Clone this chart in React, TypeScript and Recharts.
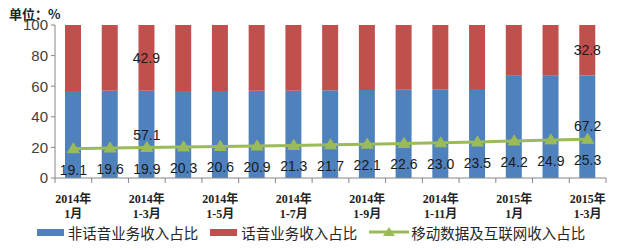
import React from "react";
import {
  ComposedChart,
  Bar,
  Line,
  XAxis,
  YAxis,
  Legend,
  LabelList,
} from "recharts";

const categories = [
  "2014年1月",
  "2014年1-2月",
  "2014年1-3月",
  "2014年1-4月",
  "2014年1-5月",
  "2014年1-6月",
  "2014年1-7月",
  "2014年1-8月",
  "2014年1-9月",
  "2014年1-10月",
  "2014年1-11月",
  "2014年1-12月",
  "2015年1月",
  "2015年1-2月",
  "2015年1-3月",
];

const nonVoiceShare = [56.9, 57.0, 57.1, 56.8, 56.9, 57.0, 57.1, 57.3, 57.5, 57.7, 58.0, 58.1, 66.8, 67.1, 67.2];
const voiceShare = [43.1, 43.0, 42.9, 43.2, 43.1, 43.0, 42.9, 42.7, 42.5, 42.3, 42.0, 41.9, 33.2, 32.9, 32.8];
const mobileDataShare = [19.1, 19.6, 19.9, 20.3, 20.6, 20.9, 21.3, 21.7, 22.1, 22.6, 23.0, 23.5, 24.2, 24.9, 25.3];

const labeledBars = [2, 14];
const yTicks = [0, 20, 40, 60, 80, 100];

const seriesOrder = ["nonVoice", "voice", "data"];
const seriesNames = {
  nonVoice: "非话音业务收入占比",
  voice: "话音业务收入占比",
  data: "移动数据及互联网收入占比",
};

const colors = {
  nonVoice: "#4F81BD",
  voice: "#C0504D",
  data: "#9BBB59",
};

const AXIS_COLOR = "#868686";

const data = categories.map((c, i) => ({
  name: c,
  nonVoice: nonVoiceShare[i],
  voice: voiceShare[i],
  data: mobileDataShare[i],
}));

const NUM_FONT = "'Liberation Sans', Arial, sans-serif";
const CJK_FONT = "'Noto Sans CJK SC', 'Noto Sans', sans-serif";

const getXY = (props: any) => {
  const vb = props.viewBox || {};
  const x = vb.x ?? props.x;
  const y = vb.y ?? props.y;
  const w = vb.width ?? props.width ?? 0;
  const h = vb.height ?? props.height ?? 0;
  return { x, y, w, h };
};

const LineValueLabel = (props: any) => {
  const { x, y } = getXY(props);
  if (x == null || y == null) return null;
  return (
    <text x={x} y={y + 26} textAnchor="middle" fontSize={14} fontFamily={NUM_FONT} fill="#1a1a1a">
      {Number(props.value).toFixed(1)}
    </text>
  );
};

const NonVoiceLabel = (props: any) => {
  if (!labeledBars.includes(props.index)) return null;
  const { x, y } = getXY(props);
  if (x == null || y == null) return null;
  return (
    <text x={x} y={y - 8} textAnchor="middle" fontSize={14} fontFamily={NUM_FONT} fill="#1a1a1a">
      {Number(props.value).toFixed(1)}
    </text>
  );
};

const VoiceLabel = (props: any) => {
  if (!labeledBars.includes(props.index)) return null;
  const { x, y, w, h } = getXY(props);
  if (x == null || y == null) return null;
  return (
    <text x={x + w / 2} y={y + h / 2 + 5} textAnchor="middle" fontSize={14} fontFamily={NUM_FONT} fill="#1a1a1a">
      {Number(props.value).toFixed(1)}
    </text>
  );
};

const TriangleDot = (props: any) => {
  const { cx, cy } = props;
  if (cx == null || cy == null) return null;
  return (
    <polygon
      points={`${cx},${cy - 6} ${cx - 6},${cy + 4} ${cx + 6},${cy + 4}`}
      fill={colors.data}
      stroke={colors.data}
    />
  );
};

const CategoryTick = (props: any) => {
  const { x, y, payload, index, visibleTicksCount } = props;
  const idx = payload.index ?? index;
  const half = payload.offset ?? 18.37;
  const count = visibleTicksCount ?? categories.length;
  const v: string = payload.value;
  const k = v.indexOf("年");
  const year = v.slice(0, k + 1);
  const period = v.slice(k + 1);
  const showLabel = idx % 2 === 0;
  const font = "'Liberation Serif', 'Noto Sans CJK SC', serif";
  return (
    <g>
      <line x1={x - half} y1={y} x2={x - half} y2={y + 5} stroke={AXIS_COLOR} />
      {idx === count - 1 && (
        <line x1={x + half} y1={y} x2={x + half} y2={y + 5} stroke={AXIS_COLOR} />
      )}
      {showLabel && (
        <text x={x} y={y + 25} textAnchor="middle" fontSize={12} fontWeight="bold" fontFamily={font} fill="#222">
          {year}
        </text>
      )}
      {showLabel && (
        <text x={x} y={y + 40} textAnchor="middle" fontSize={12} fontWeight="bold" fontFamily={font} fill="#222">
          {period}
        </text>
      )}
    </g>
  );
};

const LegendContent = (props: any) => {
  const payload = [...(props.payload || [])].sort(
    (a: any, b: any) => seriesOrder.indexOf(a.dataKey) - seriesOrder.indexOf(b.dataKey)
  );
  return (
    <div
      style={{
        display: "flex",
        justifyContent: "center",
        alignItems: "center",
        height: 20,
        fontFamily: CJK_FONT,
        fontSize: 14.5,
        color: "#262626",
        whiteSpace: "nowrap",
      }}
    >
      {payload.map((item: any, i: number) => {
        const key = item.dataKey as keyof typeof colors;
        const color = colors[key] || item.color;
        const icon =
          key === "data" ? (
            <svg width={40} height={14} style={{ marginRight: 2 }}>
              <line x1={0} y1={7} x2={40} y2={7} stroke={color} strokeWidth={3} />
              <polygon points="20,2 14,11 26,11" fill={color} />
            </svg>
          ) : (
            <span
              style={{
                display: "inline-block",
                width: 27,
                height: 7,
                background: color,
                marginRight: 4,
              }}
            />
          );
        return (
          <span key={i} style={{ display: "inline-flex", alignItems: "center", marginRight: i < payload.length - 1 ? 12 : 0 }}>
            {icon}
            <span>{item.value}</span>
          </span>
        );
      })}
    </div>
  );
};

export default function App() {
  return (
    <div style={{ position: "fixed", left: 0, top: 0, width: 622, height: 250, background: "#fff" }}>
      <ComposedChart
        width={622}
        height={250}
        data={data}
        margin={{ top: 25, right: 16, left: 0, bottom: 0 }}
      >
        <XAxis
          dataKey="name"
          interval={0}
          axisLine={{ stroke: AXIS_COLOR }}
          tickLine={false}
          tickSize={0}
          tickMargin={0}
          height={52}
          tick={<CategoryTick />}
        />
        <YAxis
          domain={[0, 100]}
          ticks={yTicks}
          width={55}
          tickSize={4}
          tickMargin={3}
          stroke={AXIS_COLOR}
          tick={{ fill: "#404040", fontSize: 15, fontFamily: NUM_FONT }}
        />
        <Legend
          verticalAlign="bottom"
          height={20}
          wrapperStyle={{ top: 222, left: 0, width: 622 }}
          content={<LegendContent />}
        />
        <Bar
          dataKey="nonVoice"
          name={seriesNames.nonVoice}
          stackId="a"
          fill={colors.nonVoice}
          barSize={16}
          isAnimationActive={false}
        />
        <Bar
          dataKey="voice"
          name={seriesNames.voice}
          stackId="a"
          fill={colors.voice}
          barSize={16}
          isAnimationActive={false}
        >
          <LabelList dataKey="voice" content={<VoiceLabel />} />
        </Bar>
        <Line
          dataKey="data"
          name={seriesNames.data}
          stroke={colors.data}
          strokeWidth={3}
          dot={<TriangleDot />}
          activeDot={false}
          isAnimationActive={false}
        >
          <LabelList dataKey="data" content={<LineValueLabel />} />
          <LabelList dataKey="nonVoice" content={<NonVoiceLabel />} />
        </Line>
      </ComposedChart>
      <div
        style={{
          position: "absolute",
          left: 9,
          top: 5,
          fontFamily: CJK_FONT,
          fontWeight: "bold",
          fontSize: 13,
          color: "#222",
          whiteSpace: "nowrap",
          lineHeight: "18px",
        }}
      >
        单位：%
      </div>
    </div>
  );
}
